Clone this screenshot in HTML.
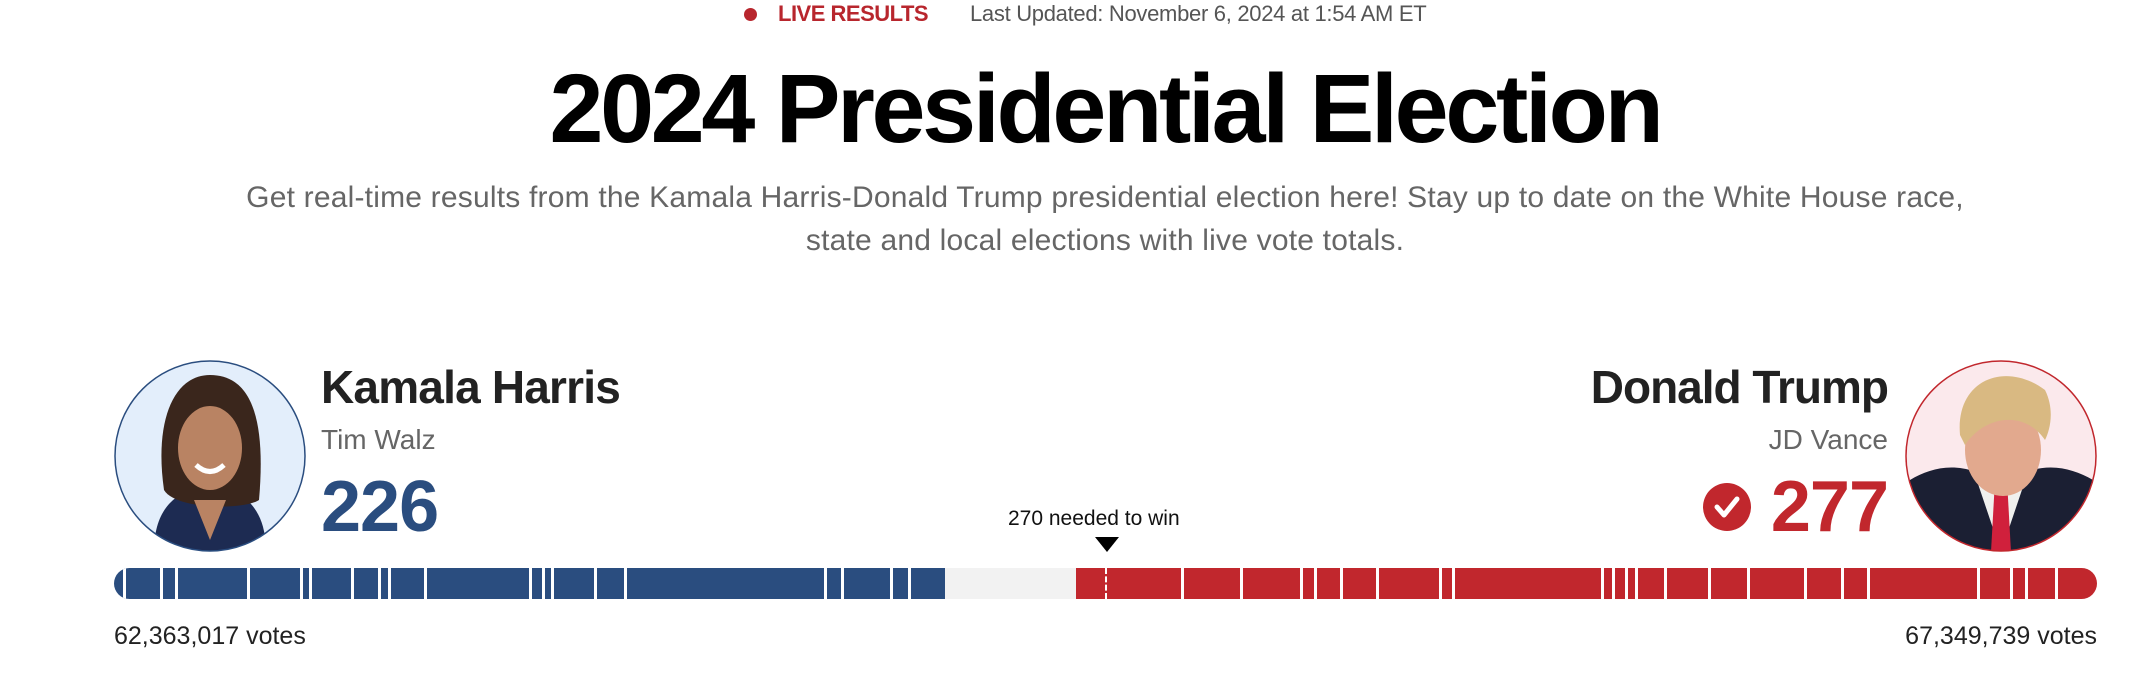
<!DOCTYPE html>
<html><head><meta charset="utf-8"><style>
body{margin:0;width:2156px;height:674px;background:#fff;position:relative;overflow:hidden;font-family:"Liberation Sans",Arial,sans-serif}
.a{position:absolute;white-space:nowrap;line-height:1}
.sep{position:absolute;top:0;width:3px;height:31px;background:#fff}
</style></head><body>
<div class="a" style="left:744px;top:8px;width:13px;height:13px;border-radius:50%;background:#b8262d"></div>
<div class="a" style="left:778px;top:3px;font-size:22px;font-weight:bold;color:#b8262d;letter-spacing:-0.5px">LIVE RESULTS</div>
<div class="a" style="left:970px;top:3px;font-size:22px;color:#555;letter-spacing:-0.3px">Last Updated: November 6, 2024 at 1:54 AM ET</div>
<div class="a" style="left:0;width:2210px;text-align:center;top:60px;font-size:97px;font-weight:bold;color:#000;letter-spacing:-3.3px">2024 Presidential Election</div>
<div class="a" style="left:0;width:2210px;text-align:center;top:182px;font-size:30px;color:#666;line-height:43px;white-space:normal;letter-spacing:0.2px">
<div style="margin-top:-6px">Get real-time results from the Kamala Harris-Donald Trump presidential election here! Stay up to date on the White House race,</div>
<div>state and local elections with live vote totals.</div></div>

<svg class="a" style="left:114px;top:360px" width="192" height="192" viewBox="0 0 192 192">
<defs><clipPath id="c1"><circle cx="96" cy="96" r="95"/></clipPath></defs>
<circle cx="96" cy="96" r="95" fill="#e3eefb"/>
<g clip-path="url(#c1)">
<path d="M40 192 C40 150 60 130 96 125 C132 130 152 150 152 192Z" fill="#1d2b52"/>
<path d="M50 130 C40 60 60 15 96 15 C138 15 152 60 145 140 C130 150 62 150 50 130Z" fill="#3a261c"/>
<ellipse cx="96" cy="88" rx="32" ry="42" fill="#b98363"/>
<path d="M80 140 L96 180 L112 140Z" fill="#b98363"/>
<path d="M82 105 Q96 118 110 105" stroke="#fff" stroke-width="5" fill="none"/>
</g>
<circle cx="96" cy="96" r="95" fill="none" stroke="#2a4d7f" stroke-width="1.5"/>
</svg>
<div class="a" style="left:321px;top:364px;font-size:46px;font-weight:bold;color:#222;letter-spacing:-0.8px">Kamala Harris</div>
<div class="a" style="left:321px;top:426px;font-size:28px;color:#666">Tim Walz</div>
<div class="a" style="left:321px;top:471px;font-size:72px;font-weight:bold;color:#2a4d7f;letter-spacing:-1px">226</div>

<svg class="a" style="left:1905px;top:360px" width="192" height="192" viewBox="0 0 192 192">
<defs><clipPath id="c2"><circle cx="96" cy="96" r="95"/></clipPath></defs>
<circle cx="96" cy="96" r="95" fill="#fbe9ec"/>
<g clip-path="url(#c2)">
<path d="M0 192 L5 120 C30 105 60 100 96 125 C132 100 162 105 188 120 L192 192Z" fill="#1b1f33"/>
<path d="M70 115 L96 192 L122 115Z" fill="#f0f0ee"/>
<path d="M90 120 L102 120 L106 192 L86 192Z" fill="#d0203c"/>
<ellipse cx="98" cy="90" rx="38" ry="46" fill="#e2a98e"/>
<path d="M55 75 C50 20 100 0 140 30 C150 50 145 70 140 80 C120 50 80 55 60 85Z" fill="#d9b982"/>
</g>
<circle cx="96" cy="96" r="95" fill="none" stroke="#c1272d" stroke-width="1.5"/>
</svg>
<div class="a" style="right:268px;top:364px;font-size:46px;font-weight:bold;color:#222;letter-spacing:-1px">Donald Trump</div>
<div class="a" style="right:268px;top:426px;font-size:28px;color:#666">JD Vance</div>
<div class="a" style="right:268px;top:471px;font-size:72px;font-weight:bold;color:#c1272d;letter-spacing:-1px">277</div>
<svg class="a" style="left:1703px;top:483px" width="48" height="48"><circle cx="24" cy="24" r="24" fill="#c1272d"/><path d="M14 24 L21 32 L34 16" stroke="#fff" stroke-width="5" fill="none" stroke-linecap="round" stroke-linejoin="round"/></svg>

<div class="a" style="left:1008px;top:508px;font-size:21px;color:#111">270 needed to win</div>
<svg class="a" style="left:1095px;top:537px" width="24" height="15"><path d="M0 0 L24 0 L12 15Z" fill="#000"/></svg>

<div class="a" style="left:114px;top:568px;width:1983px;height:31px;border-radius:16px;overflow:hidden;background:#f2f2f2">
<div class="a" style="left:0;top:0;width:831px;height:31px;background:#2a4d7f"></div>
<div class="a" style="left:962px;top:0;width:1021px;height:31px;background:#c1272d"></div>
<div class="sep" style="left:9px"></div><div class="sep" style="left:46px"></div><div class="sep" style="left:61px"></div><div class="sep" style="left:133px"></div><div class="sep" style="left:186px"></div><div class="sep" style="left:195px"></div><div class="sep" style="left:237px"></div><div class="sep" style="left:264px"></div><div class="sep" style="left:274px"></div><div class="sep" style="left:310px"></div><div class="sep" style="left:415px"></div><div class="sep" style="left:428px"></div><div class="sep" style="left:437px"></div><div class="sep" style="left:480px"></div><div class="sep" style="left:510px"></div><div class="sep" style="left:710px"></div><div class="sep" style="left:727px"></div><div class="sep" style="left:776px"></div><div class="sep" style="left:794px"></div>
<div class="a" style="left:991px;top:0;width:0;height:31px;border-left:2px dashed #fff"></div>
<div class="sep" style="left:1067px"></div><div class="sep" style="left:1126px"></div><div class="sep" style="left:1186px"></div><div class="sep" style="left:1200px"></div><div class="sep" style="left:1226px"></div><div class="sep" style="left:1262px"></div><div class="sep" style="left:1325px"></div><div class="sep" style="left:1338px"></div><div class="sep" style="left:1487px"></div><div class="sep" style="left:1498px"></div><div class="sep" style="left:1511px"></div><div class="sep" style="left:1521px"></div><div class="sep" style="left:1550px"></div><div class="sep" style="left:1594px"></div><div class="sep" style="left:1633px"></div><div class="sep" style="left:1690px"></div><div class="sep" style="left:1727px"></div><div class="sep" style="left:1753px"></div><div class="sep" style="left:1863px"></div><div class="sep" style="left:1896px"></div><div class="sep" style="left:1911px"></div><div class="sep" style="left:1941px"></div>
</div>

<div class="a" style="left:114px;top:624px;font-size:25px;color:#222">62,363,017 votes</div>
<div class="a" style="right:59px;top:624px;font-size:25px;color:#222">67,349,739 votes</div>
</body></html>
